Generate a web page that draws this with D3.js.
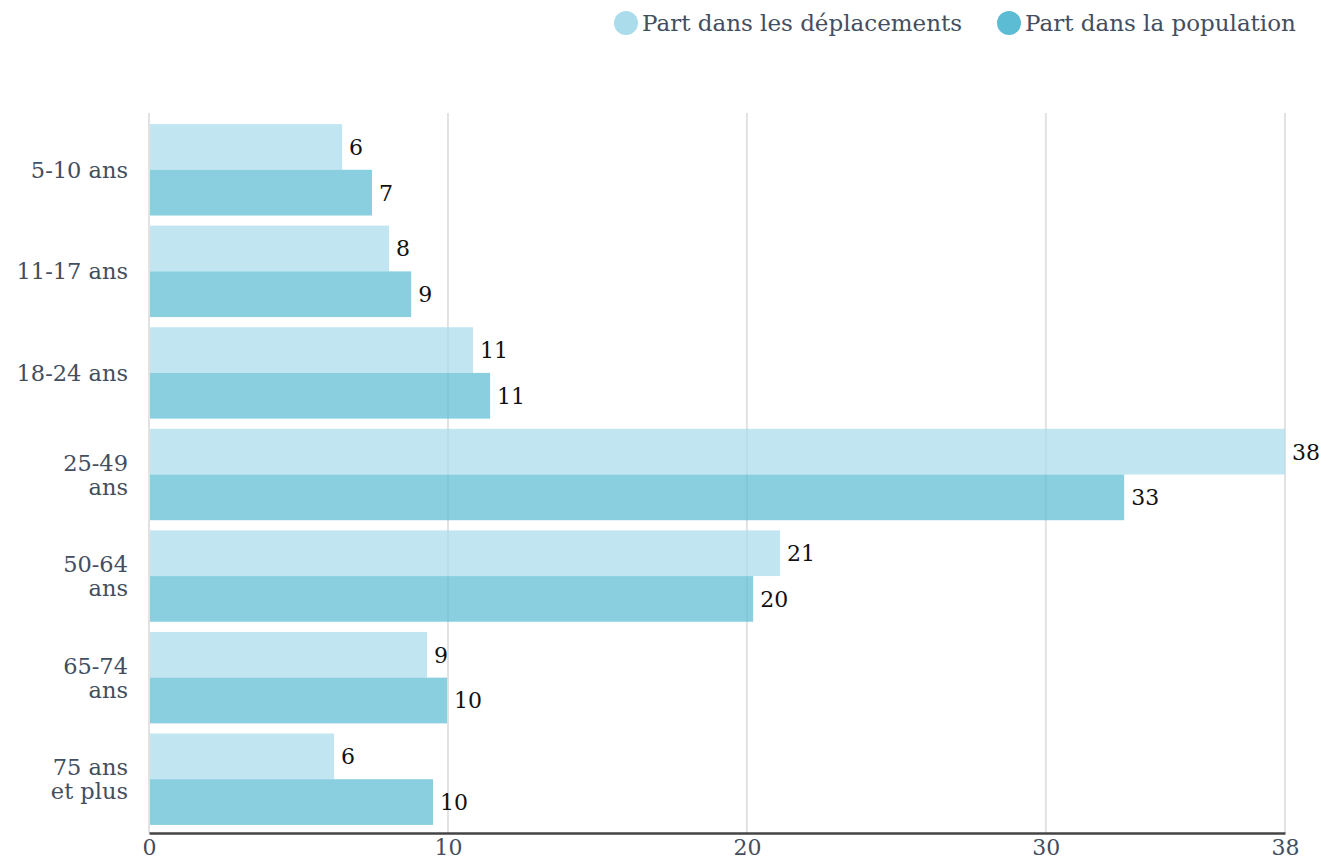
<!DOCTYPE html>
<html><head><meta charset="utf-8">
<script src="https://cdn.jsdelivr.net/npm/d3@7"></script>
<style>
body{margin:0;background:#fff;}
svg{display:block;}
text{font-family:"DejaVu Serif","Liberation Serif",serif;}
</style></head>
<body>
<svg id="chart" width="1328" height="864"></svg>
<script>
const categories = ["5-10 ans","11-17 ans","18-24 ans","25-49 ans","50-64 ans","65-74 ans","75 ans et plus"];
const categoryLines = [["5-10 ans"],["11-17 ans"],["18-24 ans"],["25-49","ans"],["50-64","ans"],["65-74","ans"],["75 ans","et plus"]];
const seriesNames = ["Part dans les déplacements","Part dans la population"];
const deplacements = [6.46, 8.03, 10.84, 38.0, 21.11, 9.30, 6.19];
const population = [7.46, 8.77, 11.41, 32.62, 20.21, 9.97, 9.50];
const seriesColors = ["#aadceb","#5bbcd4"];
const xTicks = [0,10,20,30,38];

(function(){
const svg = d3.select("#chart");
const plotLeft = 149, plotRight = 1285, plotTop = 113, plotBottom = 833;
const textColor = "#434e60";
const x = d3.scaleLinear().domain([0,38]).range([plotLeft,plotRight]);
const y = d3.scaleBand().domain(categories).range([119,830]).paddingInner(0.1).paddingOuter(0.05);
const sub = d3.scaleBand().domain([0,1]).range([0,y.bandwidth()]);

svg.append("g").selectAll("line").data(xTicks).join("line")
  .attr("x1",d=>x(d)).attr("x2",d=>x(d)).attr("y1",plotTop).attr("y2",plotBottom)
  .attr("stroke","#e2e2e2").attr("stroke-width",2);

const series = [deplacements, population];
series.forEach((vals,si)=>{
  const g = svg.append("g");
  g.selectAll("rect").data(vals).join("rect")
    .attr("x",x(0)+1).attr("y",(d,i)=>y(categories[i])+sub(si))
    .attr("width",d=>x(d)-x(0)-1).attr("height",sub.bandwidth())
    .attr("fill",seriesColors[si]).attr("fill-opacity",0.72);
  g.selectAll("text").data(vals).join("text")
    .attr("x",d=>x(d)+7).attr("y",(d,i)=>y(categories[i])+sub(si)+sub.bandwidth()/2)
    .attr("dy","0.36em").attr("font-size",22).attr("fill","#111")
    .text(d=>Math.round(d));
});

const xAxis = d3.axisBottom(x).tickValues(xTicks).tickSize(0).tickPadding(6).tickFormat(d3.format("d"));
const ax = svg.append("g").attr("transform",`translate(0,${plotBottom})`).call(xAxis);
ax.select(".domain").attr("stroke","#444").attr("stroke-width",2.5);
ax.selectAll("text").attr("font-size",22).attr("fill",textColor).attr("font-family","DejaVu Serif");

const yl = svg.append("g");
categories.forEach((c,i)=>{
  const lines = categoryLines[i];
  const cy = y(c)+y.bandwidth()/2;
  const lh = 24;
  const t = yl.append("text").attr("text-anchor","end").attr("x",128)
    .attr("font-size",22.5).attr("fill",textColor);
  lines.forEach((l,k)=>{
    t.append("tspan").attr("x",128).attr("y",cy + (k-(lines.length-1)/2)*lh).attr("dy","0.36em").text(l);
  });
});

const legendX = [626, 1009];
seriesNames.forEach((n,i)=>{
  svg.append("circle").attr("cx",legendX[i]).attr("cy",23).attr("r",12).attr("fill",seriesColors[i]);
  svg.append("text").attr("x",legendX[i]+16).attr("y",23).attr("dy","0.36em")
    .attr("font-size",23).attr("fill",textColor).text(n);
});
})();
</script>
</body></html>
